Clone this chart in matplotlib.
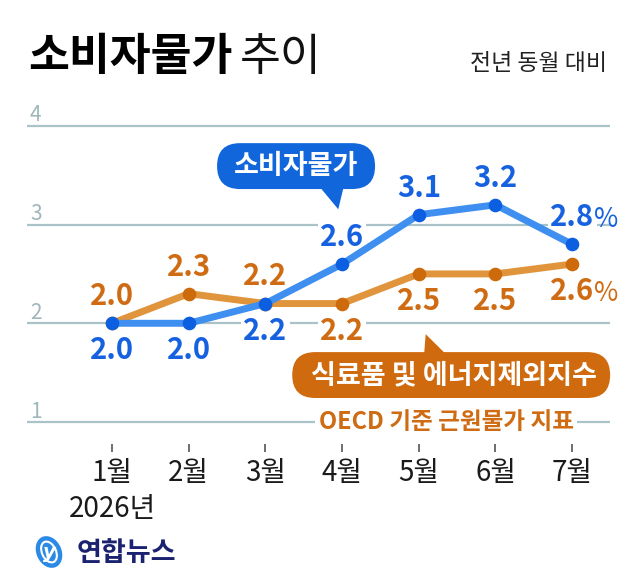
import matplotlib
matplotlib.use("Agg")
import matplotlib.pyplot as plt
from matplotlib.patches import FancyBboxPatch, Polygon, Ellipse
from matplotlib.transforms import blended_transform_factory

plt.rcParams['font.family'] = ['Noto Sans CJK KR', 'DejaVu Sans']

# ---- data ----
months = ['1월', '2월', '3월', '4월', '5월', '6월', '7월']
cpi = [2.0, 2.0, 2.2, 2.6, 3.1, 3.2, 2.8]
core = [2.0, 2.3, 2.2, 2.2, 2.5, 2.5, 2.6]
cpi_label_pos = ['below', 'below', 'below', 'above', 'above', 'above', 'above']
core_label_pos = ['above', 'above', 'above', 'below', 'below', 'below', 'below']
yticks = [1, 2, 3, 4]
title_bold = '소비자물가'
title_light = '추이'
subtitle = '전년 동월 대비'
year_label = '2026년'
cpi_name = '소비자물가'
core_name = '식료품 및 에너지제외지수'
core_sub = 'OECD 기준 근원물가 지표'
source = '연합뉴스'

# ---- colours ----
BLUE_LINE = '#3f8ff0'
BLUE_MK = '#0c5fe0'
BLUE_TXT = '#1561df'
BLUE_BOX = '#1166dc'
OR_LINE = '#e0953d'
OR_MK = '#cd6a0c'
OR_TXT = '#cf6b12'
OR_BOX = '#cf6a0e'
GRID = '#a9c3c9'
TICKTXT = '#9fb6bb'

W, H = 640, 584
fig = plt.figure(figsize=(W / 100, H / 100), dpi=100)
fig.patch.set_facecolor('white')

# axes geometry (pixels)
left_px, right_px = 27, 610
top_px, bot_px = 116, 444
ax = fig.add_axes([left_px / W, 1 - bot_px / H, (right_px - left_px) / W, (bot_px - top_px) / H])
ax.set_xlim(-1.108, 6.493)
ax.set_ylim(0.777, 4.1)
ax.set_facecolor('none')
for s in ax.spines.values():
    s.set_visible(False)

x = list(range(len(months)))

# gridlines
for yv in yticks:
    ax.axhline(yv, color=GRID, lw=1.6, zorder=1)
trans_lab = blended_transform_factory(ax.transAxes, ax.transData)
for yv in yticks:
    ax.text(0.005, yv + 0.045, str(yv), transform=trans_lab, ha='left', va='baseline',
            fontsize=15, color=TICKTXT, fontweight='light', zorder=2)

# lines
ax.plot(x, core, color=OR_LINE, lw=5, solid_capstyle='round', zorder=3, clip_on=False)
ax.plot(x, core, 'o', color=OR_MK, ms=8.8, zorder=4, clip_on=False)
ax.plot(x, cpi, color=BLUE_LINE, lw=5, solid_capstyle='round', zorder=5, clip_on=False)
ax.plot(x, cpi, 'o', color=BLUE_MK, ms=8.8, zorder=6, clip_on=False)

# value labels
def label(xi, yi, pos, color, last):
    dy = 19.5 if pos == 'above' else -19.5
    t = ax.annotate(f'{yi:.1f}', (xi, yi), xytext=(0, dy), textcoords='offset points',
                    ha='center', va='center', fontsize=21, fontweight='bold', color=color,
                    zorder=2.5,
                    bbox=dict(boxstyle='square,pad=0.08', fc='white', ec='none'))
    if last:
        ax.annotate('%', xy=(1, 0.42), xycoords=t, xytext=(-0.5, 0), textcoords='offset points',
                    ha='left', va='center', fontsize=19, color=color, zorder=8)

for i, (v, p) in enumerate(zip(cpi, cpi_label_pos)):
    label(x[i], v, p, BLUE_TXT, i == len(x) - 1)
for i, (v, p) in enumerate(zip(core, core_label_pos)):
    label(x[i], v, p, OR_TXT, i == len(x) - 1)

# x ticks
ax.set_xticks(x)
ax.set_xticklabels(months, fontsize=20, color='#1a1a1a')
ax.tick_params(axis='x', direction='out', length=6, width=1.2, color='#555555', pad=4)
ax.set_yticks([])
ax.text(0, 0.12, year_label, transform=ax.transData, ha='center', va='center',
        fontsize=20, color='#1a1a1a', clip_on=False)

# callout: CPI (blue)
aspect = 0.775
bx, by, bw, bh = 1.37, 3.36, 2.06, 0.465
ax.add_patch(FancyBboxPatch((bx, by), bw, bh, boxstyle='round,pad=0,rounding_size=0.3',
                            mutation_aspect=aspect, fc=BLUE_BOX, ec='none', zorder=9, clip_on=False))
ax.add_patch(Polygon([(2.71, 3.38), (3.02, 3.38), (2.95, 3.155)], closed=True,
                     fc=BLUE_BOX, ec='none', zorder=9, clip_on=False))
ax.text(bx + bw / 2, by + bh / 2, cpi_name, ha='center', va='center', fontsize=19.5,
        fontweight='bold', color='white', zorder=10)

# callout: core (orange)
ox, oy, ow, oh = 2.35, 1.243, 4.145, 0.465
ax.add_patch(FancyBboxPatch((ox, oy), ow, oh, boxstyle='round,pad=0,rounding_size=0.3',
                            mutation_aspect=aspect, fc=OR_BOX, ec='none', zorder=9, clip_on=False))
ax.add_patch(Polygon([(4.07, 1.69), (4.35, 1.69), (4.09, 1.89)], closed=True,
                     fc=OR_BOX, ec='none', zorder=9, clip_on=False))
ax.text(ox + ow / 2 + 0.03, oy + oh / 2, core_name, ha='center', va='center', fontsize=19.5,
        fontweight='bold', color='white', zorder=10)
ax.text(4.36, 1.0, core_sub, ha='center', va='center', fontsize=17, fontweight='bold',
        color=OR_TXT, zorder=10,
        bbox=dict(boxstyle='square,pad=0.15', fc='white', ec='none'))

# titles
fig.text(28 / W, 1 - 57 / H, title_bold, ha='left', va='center', fontsize=32,
         fontweight='bold', color='black')
fig.text(240 / W, 1 - 57 / H, title_light, ha='left', va='center', fontsize=32,
         fontweight='light', color='#111111')
fig.text(607 / W, 1 - 64 / H, subtitle, ha='right', va='center', fontsize=16.5,
         fontweight='light', color='#222222')

# logo
lax = fig.add_axes([0, 0, 1, 1], facecolor='none')
lax.set_xlim(0, W)
lax.set_ylim(H, 0)
lax.axis('off')
lax.add_patch(Ellipse((49, 552), 25, 33, angle=-25, fc='#2a8ae6', ec='none'))
lax.add_patch(Ellipse((49, 552), 14, 22, angle=-25, fc='none', ec='white', lw=1.5))
lax.text(49, 552, 'y', ha='center', va='center', fontsize=14, color='white',
         style='italic', fontweight='bold', family=['DejaVu Sans'])
lax.text(77, 553, source, ha='left', va='center', fontsize=19.5, fontweight='bold',
         color='#1b2370')

fig.savefig('out.png', dpi=100, facecolor='white')
